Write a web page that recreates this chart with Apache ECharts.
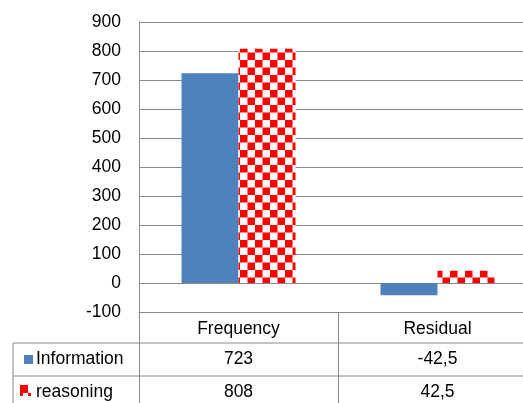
<!DOCTYPE html>
<html><head><meta charset="utf-8">
<script src="https://cdn.jsdelivr.net/npm/echarts@6/dist/echarts.min.js"></script>
<style>html,body{margin:0;padding:0;background:#fff}#c{width:523px;height:403px}</style>
</head><body><div id="c"></div>
<script>
const categories = ['Frequency', 'Residual'];
const seriesNames = ['Information', 'reasoning'];
const information = [723, -42.5];
const reasoning = [808, 42.5];
const yMin = -100, yMax = 900, yInterval = 100;

const FONT = 'Liberation Sans';
const FS = 17.5;
const LINE = '#8a8a8a';

function checker() {
  const c = document.createElement('canvas');
  c.width = 15; c.height = 15;
  const g = c.getContext('2d');
  g.fillStyle = '#fff'; g.fillRect(0, 0, 15, 15);
  g.fillStyle = '#ff0000';
  g.fillRect(0, 0, 7.5, 7.5);
  g.fillRect(7.5, 7.5, 7.5, 7.5);
  return c;
}
const pat = checker();

const chart = echarts.init(document.getElementById('c'), null, {renderer: 'canvas'});
const gridLeft = 139, gridTop = 22, gridH = 290, gridW = 398;

chart.setOption({
  animation: false,
  grid: {left: gridLeft, top: gridTop, height: gridH, width: gridW, outerBoundsMode: 'none', containLabel: false},
  xAxis: {
    type: 'category', data: categories, position: 'bottom',
    axisLine: {onZero: false, lineStyle: {color: LINE, width: 1}},
    axisTick: {show: true, length: 100, lineStyle: {color: LINE, width: 1}},
    axisLabel: {color: '#000', fontFamily: FONT, fontSize: FS, margin: 8}
  },
  yAxis: {
    type: 'value', min: yMin, max: yMax, interval: yInterval,
    axisLine: {show: true, lineStyle: {color: LINE, width: 1}},
    axisTick: {show: false},
    splitLine: {lineStyle: {color: LINE, width: 1}},
    axisLabel: {color: '#000', fontFamily: FONT, fontSize: FS, margin: 18}
  },
  series: [
    {name: seriesNames[0], type: 'bar', data: information, barWidth: 57, barGap: '0%',
     itemStyle: {color: '#4f81bd'}},
    {name: seriesNames[1], type: 'bar', data: reasoning, barWidth: 57, barGap: '0%',
     itemStyle: {color: {image: pat, repeat: 'repeat'}}}
  ]
});

const fmt = v => String(v).replace('.', ',');
const rows = [information, reasoning];
const rowTop = [343, 376];
const rowH = 33;
const g = [];
[343, 376, 409].forEach(y => g.push({type: 'line', shape: {x1: 13, y1: y, x2: 523, y2: y},
  style: {stroke: LINE, lineWidth: 1}, silent: true}));
g.push({type: 'line', shape: {x1: 13, y1: 343, x2: 13, y2: 403}, style: {stroke: LINE, lineWidth: 1}});
rows.forEach((arr, r) => {
  const cy = rowTop[r] + rowH / 2;
  g.push({type: 'text', x: 36, y: cy, style: {text: seriesNames[r], fill: '#000',
    font: FS + 'px "' + FONT + '"', verticalAlign: 'middle', align: 'left'}});
  arr.forEach((v, i) => {
    const px = chart.convertToPixel({xAxisIndex: 0}, categories[i]);
    g.push({type: 'text', x: px, y: cy, style: {text: fmt(v), fill: '#000',
      font: FS + 'px "' + FONT + '"', verticalAlign: 'middle', align: 'center'}});
  });
});
g.push({type: 'rect', shape: {x: 24, y: 355, width: 9, height: 9}, style: {fill: '#4f81bd'}});
g.push({type: 'rect', shape: {x: 20, y: 385, width: 8, height: 8}, style: {fill: '#ff0000'}});
g.push({type: 'rect', shape: {x: 20, y: 393, width: 3, height: 3}, style: {fill: '#ff0000'}});
g.push({type: 'rect', shape: {x: 28, y: 393, width: 3, height: 3}, style: {fill: '#ff0000'}});
chart.setOption({graphic: g});
</script></body></html>
